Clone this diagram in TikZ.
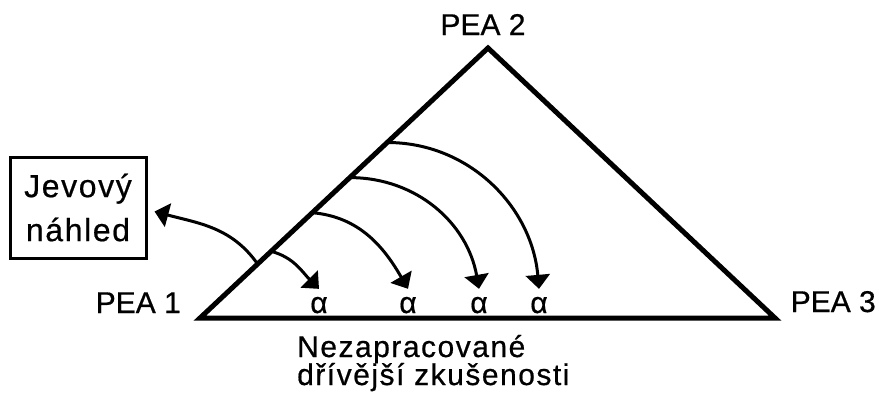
\documentclass[tikz,border=0pt]{standalone}
\usepackage{fontspec}
\setmainfont{Liberation Sans}[FakeBold=0.6]
\newfontfamily\siroke[LetterSpace=5,FakeBold=0.6]{Liberation Sans}
\usetikzlibrary{arrows.meta}

\begin{document}
\begin{tikzpicture}[x=1pt, y=-1pt,
    lbl/.style={font=\fontsize{30}{28}\selectfont, inner sep=0pt},
    alfa/.style={lbl, anchor=base, outer ysep=8pt},
    sipka/.style={line width=3pt, -{Triangle[width=24pt,length=14pt]}}]
  \useasboundingbox (0,0) rectangle (879,394);
  % Vrcholy trojuhelniku
  \coordinate (p1) at (200,318);
  \coordinate (p2) at (488,48);
  \coordinate (p3) at (775,318);
  \draw[line width=5pt, line join=miter] (p1) -- (p2) -- (p3) -- cycle;
  % Popisky vrcholu
  \node[lbl, anchor=base east] (l1) at (181,313) {PEA 1};
  \node[lbl, anchor=base] (l2) at (483,35) {PEA 2};
  \node[lbl, anchor=base east] (l3) at (876,312) {PEA 3};
  % Ramecek vlevo
  \node[draw, line width=3pt, minimum width=136pt, minimum height=101pt,
    align=center, inner sep=0pt, font=\siroke\fontsize{32}{44}\selectfont]
    (nahled) at (78,207.5) {Jevový\\náhled};
  % Body na leve strane
  \path (p1) -- (p2) coordinate[pos=0.2] (s0) coordinate[pos=0.247] (s1)
    coordinate[pos=0.39] (s2) coordinate[pos=0.52] (s3) coordinate[pos=0.65] (s4);
  % Alfy
  \foreach \x/\n in {319/1, 408/2, 479/3, 539/4}
    \node[alfa] (a\n) at (\x,313) {α};
  % Sipky
  \draw[sipka] (s0) to[out=125, in=-15] ([xshift=7pt,yshift=-4pt]nahled.east);
  \draw[sipka] (s1) to[out=-15, in=135] (a1.north);
  \draw[sipka] (s2) to[out=-5, in=120] (a2.north);
  \draw[sipka] (s3) to[out=0, in=100] (a3.north);
  \draw[sipka] (s4) to[out=0, in=95] (a4.north);
  % Popisek dole
  \node[lbl, anchor=base west, font=\siroke\fontsize{30}{28}\selectfont] (n1) at (297,357) {Nezapracované};
  \node[lbl, anchor=base west, font=\siroke\fontsize{30}{28}\selectfont] (n2) at (297,385) {dřívější zkušenosti};
\end{tikzpicture}
\end{document}
